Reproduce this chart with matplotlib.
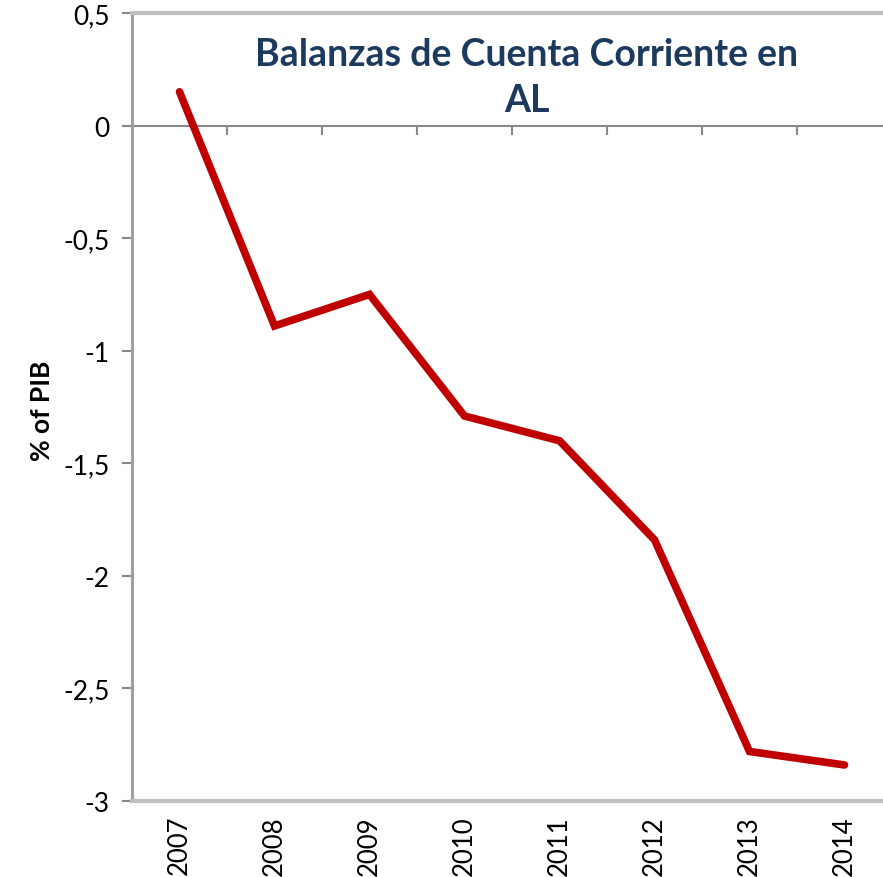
import numpy as np
import matplotlib
matplotlib.use("Agg")
import matplotlib.pyplot as plt

# datos
years = ["2007", "2008", "2009", "2010", "2011", "2012", "2013", "2014"]
balance = [0.15, -0.89, -0.75, -1.29, -1.40, -1.84, -2.78, -2.84]
y_ticks = [0.5, 0, -0.5, -1, -1.5, -2, -2.5, -3]
y_labels = ["0,5", "0", "-0,5", "-1", "-1,5", "-2", "-2,5", "-3"]

plt.rcParams['font.family'] = ['Lato', 'DejaVu Sans']

fig = plt.figure(figsize=(8.83, 8.78), dpi=100)
ax = fig.add_axes([132 / 883, 76 / 878, 760 / 883, 788 / 878])

x = np.arange(len(years))
ax.plot(x, balance, color='#c00000', lw=5.5, solid_capstyle='round',
        solid_joinstyle='miter', zorder=3)

ax.set_xlim(-0.5, len(years) - 0.5)
ax.set_ylim(-3, 0.5)

# eje y
ax.set_yticks(y_ticks)
ax.set_yticklabels(y_labels, fontsize=19)
ax.tick_params(axis='y', direction='out', length=7, width=1.5, color='#888888', pad=9)

# etiquetas de años abajo (en el original quedan un poco cortadas)
ax.set_xticks(x)
ax.set_xticklabels(years, rotation=90, fontsize=18.5, va='top')
ax.tick_params(axis='x', length=0, pad=10)

for s in ['top', 'bottom', 'right']:
    ax.spines[s].set_color('#c0c0c0')
    ax.spines[s].set_linewidth(3)
ax.spines['left'].set_color('#a0a0a0')
ax.spines['left'].set_linewidth(2.2)

# linea del cero con marcas entre categorias (hacia abajo)
ax.axhline(0, color='#888888', lw=1.5, zorder=2)
ax.vlines(x[:-1] + 0.5, -0.04, 0, color='#888888', lw=1.5, zorder=2)

ax.set_ylabel('% of PIB', fontsize=19, fontweight='bold')
ax.yaxis.set_label_coords(-0.102, 0.497)

fig.text(527 / 883, 1 - 78 / 878, 'Balanzas de Cuenta Corriente en\nAL',
         ha='center', va='center', fontsize=27, fontweight='bold',
         color='#1b3a5e', linespacing=1.4)

fig.savefig('out.png', dpi=100)
